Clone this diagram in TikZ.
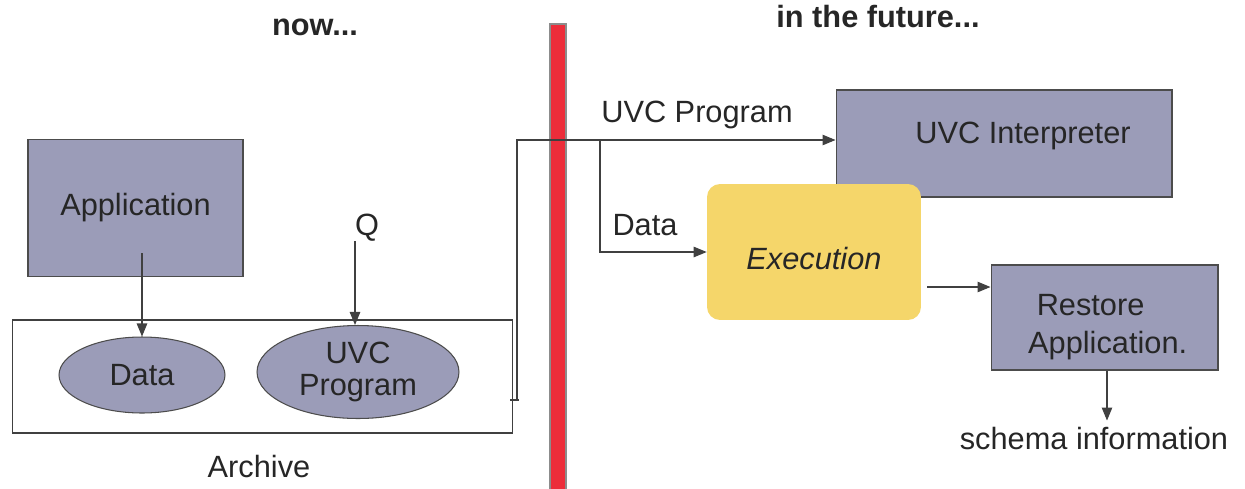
\documentclass[tikz,border=0pt]{standalone}
\usepackage{fontspec}
\setmainfont{Liberation Sans}
\usepackage{xcolor}
\usetikzlibrary{arrows.meta,positioning,shapes.geometric,calc}

\definecolor{boxgray}{RGB}{155,156,184}
\definecolor{barred}{RGB}{236,45,58}
\definecolor{execyellow}{RGB}{245,214,106}

\begin{document}
\begin{tikzpicture}[x=0.02cm,y=-0.02cm,
        every node/.style={font=\fontsize{17.5}{21}\selectfont,text=black!85},
        box/.style={draw=black!70,fill=boxgray,line width=0.6pt,inner sep=0pt},
        blob/.style={ellipse,draw=black!70,fill=boxgray,line width=0.6pt,inner sep=0pt},
        link/.style={draw=black!75,line width=0.6pt,-{Triangle[length=0.26cm,width=0.21cm]}},
        heading/.style={anchor=base,font=\fontsize{17.5}{21}\selectfont\bfseries}]
        \useasboundingbox (0,0) rectangle (1245,488);
        \fill[barred,draw=black!45,line width=0.6pt] (550,24) rectangle (566,492);
        \node[heading] (now) at (315,35) {now...};
        \node[heading] (future) at (878,27) {in the future...};

        \node[draw=black!75,line width=0.6pt,minimum width=10.02cm,minimum height=2.26cm] (archive) at (262.5,376.5) {};
        \node[anchor=base] (archlbl) at (259,477) {Archive};
        \node[box,minimum width=4.3cm,minimum height=2.74cm] (app) at (135.5,208) {Application};
        \node[blob,minimum width=3.32cm,minimum height=1.52cm] (data) at (142,375) {Data};
        \node[blob,minimum width=4.04cm,minimum height=1.86cm,align=center,
                font=\fontsize{17.5}{18}\selectfont] (uvc) at (358,372) {UVC\\Program};
        \node[anchor=base,inner sep=0pt] (q) at (367,235) {Q};

        \draw[link] ([yshift=0.48cm]data.north |- app.south) -- (data.north);
        \draw[link] ([xshift=-0.24cm]q.south) -- ([xshift=-0.24cm]q.south |- uvc.north);

        \node[box,minimum width=6.72cm,minimum height=2.14cm] (interp) at (1004,143.5) {};
        \node[anchor=base] (interptxt) at (1023,143) {UVC Interpreter};
        \node[fill=execyellow,rounded corners=0.26cm,minimum width=4.28cm,minimum height=2.72cm,
                text height=0.69cm,text depth=0cm,
                font=\fontsize{17.5}{21}\selectfont\itshape] (exec) at (814,252) {Execution};
        \node[box,minimum width=4.54cm,minimum height=2.1cm] (rest) at (1104.5,317.5) {};
        \node[anchor=base west,align=left,font=\fontsize{17.5}{21.5}\selectfont] (resttxt) at (1022,353) {~Restore\\Application.};
        \node[anchor=base] (schema) at (1094,449) {schema information};

        \coordinate (tap) at (517,400);
        \coordinate (split) at (600,140);
        \draw[black!75,line width=0.6pt] ([xshift=-0.14cm]tap) -- ([xshift=0.04cm]tap);
        \draw[link] (tap) -- (517,140) -- (split) -- (interp.west |- split);
        \draw[link] (split) |- (exec.west);
        \node[anchor=base] (uvclbl) at (697,122) {UVC Program};
        \node[anchor=base] (datalbl) at (645,235) {Data};

        \coordinate (eout) at ($(exec.east)+(6,35)$);
        \draw[link] (eout) -- (eout -| rest.west);
        \draw[link] ([xshift=0.05cm]rest.south) -- ([xshift=0.05cm]rest.south |- schema.north);
\end{tikzpicture}
\end{document}
